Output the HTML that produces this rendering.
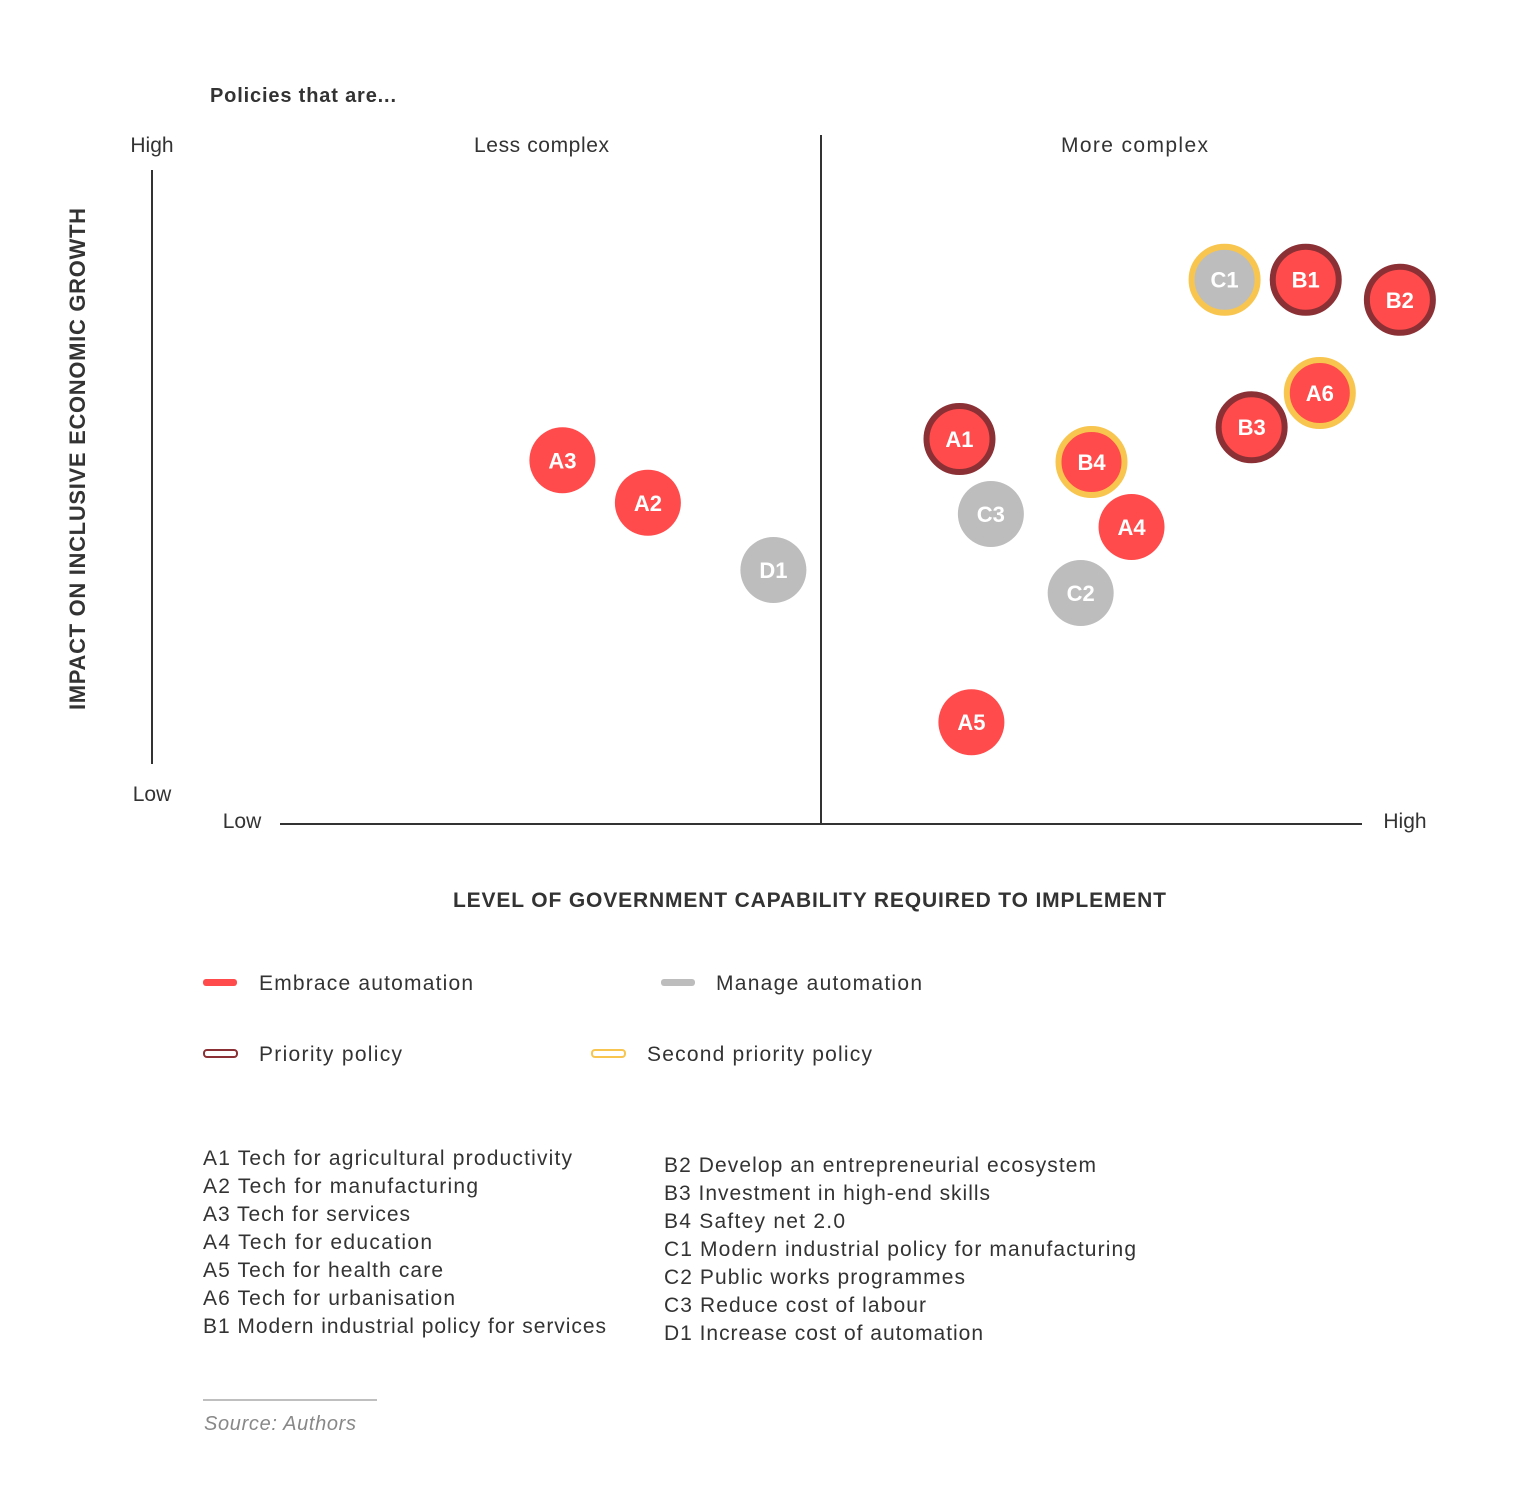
<!DOCTYPE html>
<html><head><meta charset="utf-8"><style>
body{margin:0;background:#fff;}
svg{display:block;font-family:"Liberation Sans",sans-serif;}
</style></head><body>
<svg id="chart" width="1521" height="1512" viewBox="0 0 1521 1512">
<text x="210" y="102" font-size="20" font-weight="bold" fill="#333" textLength="186">Policies that are...</text>
<text x="474" y="152" font-size="21" fill="#333" textLength="135">Less complex</text>
<text x="1061" y="152" font-size="21" fill="#333" textLength="147">More complex</text>
<text x="152" y="152" font-size="21" fill="#333" text-anchor="middle">High</text>
<text x="152" y="801" font-size="21" fill="#333" text-anchor="middle">Low</text>
<text x="242" y="828" font-size="21" fill="#333" text-anchor="middle">Low</text>
<text x="1405" y="828" font-size="21" fill="#333" text-anchor="middle">High</text>
<line x1="152" y1="170" x2="152" y2="764" stroke="#333" stroke-width="2"/>
<line x1="280" y1="824" x2="1362" y2="824" stroke="#333" stroke-width="2"/>
<line x1="821" y1="135" x2="821" y2="824" stroke="#333" stroke-width="2"/>
<text transform="translate(85,710) rotate(-90)" font-size="22" font-weight="bold" fill="#333" textLength="502">IMPACT ON INCLUSIVE ECONOMIC GROWTH</text>
<text x="453" y="907" font-size="21" font-weight="bold" fill="#333" textLength="713">LEVEL OF GOVERNMENT CAPABILITY REQUIRED TO IMPLEMENT</text>
<g id="points"></g>

<rect x="203" y="979" width="34" height="7" rx="3" fill="#FF4B4B"/>
<text x="259" y="990" font-size="21" fill="#333" textLength="214">Embrace automation</text>
<rect x="661" y="979" width="34" height="7" rx="3" fill="#BDBDBD"/>
<text x="716" y="990" font-size="21" fill="#333" textLength="206">Manage automation</text>
<rect x="204" y="1050" width="33" height="7" rx="3" fill="none" stroke="#8B3035" stroke-width="2"/>
<text x="259" y="1061" font-size="21" fill="#333" textLength="143">Priority policy</text>
<rect x="592" y="1050" width="33" height="7" rx="3" fill="none" stroke="#F8C54E" stroke-width="2"/>
<text x="647" y="1061" font-size="21" fill="#333" textLength="225">Second priority policy</text>

<g font-size="21" fill="#333">
<text x="203" y="1165" textLength="369">A1 Tech for agricultural productivity</text>
<text x="203" y="1193" textLength="275">A2 Tech for manufacturing</text>
<text x="203" y="1221" textLength="207">A3 Tech for services</text>
<text x="203" y="1249" textLength="229">A4 Tech for education</text>
<text x="203" y="1277" textLength="240">A5 Tech for health care</text>
<text x="203" y="1305" textLength="252">A6 Tech for urbanisation</text>
<text x="203" y="1333" textLength="403">B1 Modern industrial policy for services</text>
</g>
<g font-size="21" fill="#333">
<text x="664" y="1172" textLength="432">B2 Develop an entrepreneurial ecosystem</text>
<text x="664" y="1200" textLength="326">B3 Investment in high-end skills</text>
<text x="664" y="1228" textLength="181">B4 Saftey net 2.0</text>
<text x="664" y="1256" textLength="472">C1 Modern industrial policy for manufacturing</text>
<text x="664" y="1284" textLength="301">C2 Public works programmes</text>
<text x="664" y="1312" textLength="262">C3 Reduce cost of labour</text>
<text x="664" y="1340" textLength="319">D1 Increase cost of automation</text>
</g>
<line x1="203" y1="1400" x2="377" y2="1400" stroke="#aaa" stroke-width="1.5"/>
<text x="204" y="1430" font-size="20" font-style="italic" fill="#888" textLength="152">Source: Authors</text>
</svg>
<script>
const labels = ["A3","A2","D1","A1","C3","B4","A4","C2","A5","C1","B1","B2","A6","B3"];
const capability = [26.1,34.0,45.6,62.8,65.7,75.0,78.7,74.0,63.9,87.3,94.8,103.5,96.1,89.8];
const impact = [50.8,43.6,32.2,54.4,41.7,50.5,39.5,28.3,6.4,81.4,81.4,78.0,62.2,56.4];
const groups = ["embrace","embrace","manage","embrace","manage","embrace","embrace","manage","embrace","manage","embrace","embrace","embrace","embrace"];
const priority = ["none","none","none","first","none","second","none","none","none","second","first","first","second","first"];

const xs = v => 280 + v * 10.82;
const ys = v => 760 - v * 5.9;
const NS = "http://www.w3.org/2000/svg";
const g = document.getElementById("points");
labels.forEach((lab, i) => {
  const grp = document.createElementNS(NS, "g");
  
  
  const c = document.createElementNS(NS, "circle");
  c.setAttribute("cx", xs(capability[i]));
  c.setAttribute("cy", ys(impact[i]));
  c.setAttribute("r", 33);
  c.setAttribute("fill", groups[i] === "embrace" ? "#FF4B4B" : "#BDBDBD");
  if (priority[i] !== "none") {
    c.setAttribute("stroke", priority[i] === "first" ? "#8B3035" : "#F8C54E");
    c.setAttribute("stroke-width", 6);
  }
  grp.appendChild(c);
  const t = document.createElementNS(NS, "text");
  t.setAttribute("x", xs(capability[i]));
  t.setAttribute("y", ys(impact[i]) + 8);
  t.setAttribute("text-anchor", "middle");
  t.setAttribute("font-size", "22");
  t.setAttribute("font-weight", "bold");
  t.setAttribute("fill", "#fff");
  t.textContent = lab;
  grp.appendChild(t);
  g.appendChild(grp);
});
</script>
</body></html>
